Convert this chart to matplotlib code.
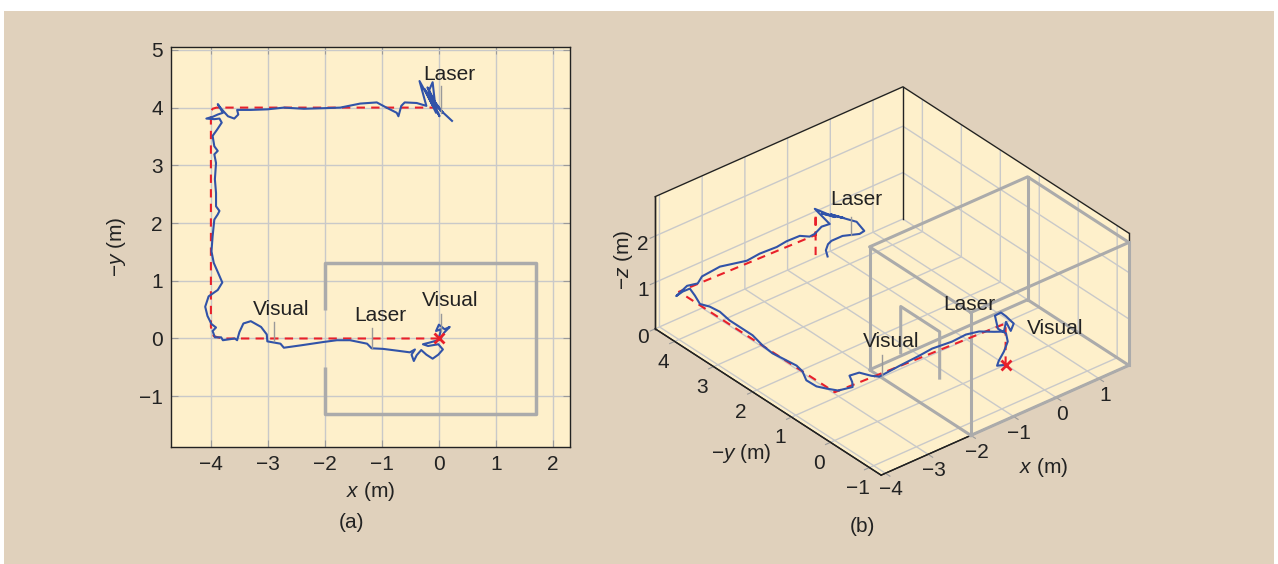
import numpy as np
import matplotlib.pyplot as plt
from matplotlib.patches import Rectangle

plt.rcParams['font.family'] = ['Liberation Sans', 'DejaVu Sans']
plt.rcParams['mathtext.fontset'] = 'custom'
plt.rcParams['mathtext.it'] = 'Liberation Sans:italic'
plt.rcParams['mathtext.rm'] = 'Liberation Sans'
plt.rcParams['grid.color'] = '#c9c9c9'
plt.rcParams['grid.linewidth'] = 1.0

# ---------------- data ----------------
# ground truth path, top view (x, -y)
gt_x = [0, -3.8, -3.95, -4.0, -4.0, -3.97, -3.9, 0.0]
gt_y = [0, 0.0, 0.04, 0.2, 3.93, 3.98, 4.0, 4.0]

# estimated trajectory, top view
traj_x = [0.0, 0.04, -0.05, 0.0, 0.10, 0.19, 0.09, 0.02, -0.16, -0.28, -0.19, -0.01, 0.07,
          -0.01, -0.11, -0.22, -0.31, -0.39, -0.44, -0.48, -0.42, -0.51, -0.74, -0.98, -1.18,
          -1.26, -1.56, -1.79, -2.02, -2.43, -2.72, -2.78, -3.01, -3.02, -3.12, -3.30, -3.43,
          -3.50, -3.54, -3.58, -3.79, -3.82, -3.93, -3.97, -3.91, -3.99, -4.06, -4.10, -4.04,
          -3.88, -3.80, -3.87, -3.95, -3.99, -3.97, -3.94, -3.88, -3.85, -3.91, -3.91, -3.93,
          -3.91, -3.94, -3.88, -3.94, -3.97, -3.89, -3.81, -3.85, -3.94, -4.08, -3.97, -3.88,
          -3.79, -3.88, -3.81, -3.70, -3.59, -3.52, -3.54, -3.30, -3.01, -2.72, -2.37, -2.02,
          -1.73, -1.38, -1.09, -0.92, -0.74, -0.71, -0.66, -0.60, -0.39, -0.22,
          -0.34, -0.10, -0.25, -0.05, -0.11, -0.19, 0.01, -0.16, 0.07, -0.10, -0.20, -0.02, 0.23]
traj_y = [0.01, 0.16, 0.13, 0.24, 0.16, 0.20, 0.10, -0.02, -0.07, -0.10, -0.13, -0.10, -0.19,
          -0.28, -0.35, -0.28, -0.20, -0.29, -0.39, -0.28, -0.19, -0.24, -0.21, -0.18, -0.17,
          -0.09, -0.03, -0.03, -0.06, -0.12, -0.16, -0.09, -0.05, 0.07, 0.20, 0.30, 0.26,
          0.11, -0.03, 0.0, -0.03, 0.02, 0.02, 0.13, 0.19, 0.25, 0.39, 0.55, 0.73,
          0.84, 0.97, 1.13, 1.31, 1.51, 1.77, 2.06, 2.15, 2.21, 2.29, 2.52, 2.76,
          3.04, 3.19, 3.25, 3.33, 3.51, 3.62, 3.74, 3.81, 3.80, 3.81, 3.84, 3.88,
          3.91, 4.06, 3.97, 3.85, 3.81, 3.88, 3.96, 3.96, 3.97, 4.00, 3.98, 3.99,
          4.00, 4.07, 4.09, 4.00, 3.91, 3.85, 4.03, 4.09, 4.08, 4.03,
          4.46, 4.03, 4.32, 3.91, 4.44, 4.26, 3.85, 4.20, 3.91, 4.14, 4.35, 4.00, 3.77]

# room outline (top view), door gap in the x = -2 wall
room_x = [-2.0, -2.0, 1.7, 1.7, -2.0, -2.0]
room_y = [0.5, 1.3, 1.3, -1.3, -1.3, -0.5]

# labels of the top view: text, text pos, leader line x, leader y0, y1
labels_a = [('Laser', 0.19, 4.58, 0.04, 3.91, 4.37),
            ('Visual', -2.76, 0.50, -2.89, -0.05, 0.28),
            ('Laser', -1.03, 0.39, -1.18, -0.16, 0.18),
            ('Visual', 0.20, 0.65, 0.03, 0.13, 0.42)]

# 3D view
gt3_x = [0, 0, -4.0, -4.0, -0.8, -0.8, -0.8]
gt3_y = [0, 0, 0.0, 4.0, 4.0, 4.0, 4.0]
gt3_z = [0, 0.89, 1.04, 1.03, 0.95, 1.40, 0.48]

traj3_x = [0.0, -0.20, -0.16, -0.04, 0.05, 0.01, -0.18, -0.25, -0.11, 0.01, 0.19, 0.12, 0.01,
           -0.04, -0.27, -0.62, -0.93, -1.25, -1.72, -2.02, -2.49, -2.96, -3.10, -3.20, -3.40,
           -3.50, -3.60, -3.90, -3.95,
           -4.0, -4.0, -4.0, -4.0, -4.0, -4.0, -4.0, -4.0, -4.0, -4.0, -4.0, -4.0, -4.0, -4.0,
           -4.0, -4.0, -4.0, -4.2,
           -3.81, -3.56, -3.46, -3.04, -2.41, -2.11, -1.71, -1.48, -1.17, -0.94, -0.82, -0.66,
           -0.47, -0.82, -0.35, -0.65, -0.15, -0.45, -0.08, 0.16, 0.34, 0.23, -0.17, -0.43,
           -0.51, -0.56, -0.52]
traj3_y = [0.0, 0.0, 0.0, 0.0, 0.0, 0.0, 0.0, 0.0, 0.0, 0.0, 0.0, 0.0, 0.0,
           0.0, 0.0, 0.0, 0.0, 0.0, 0.0, 0.0, 0.0, 0.0, 0.05, 0.25, 0.28,
           0.10, -0.02, 0.0, -0.05,
           0.22, 0.47, 0.73, 0.83, 0.98, 1.34, 1.60, 1.85, 2.11, 2.26, 2.70, 2.95, 3.21, 3.46,
           3.59, 3.72, 3.90, 3.85,
           4.0, 4.0, 4.0, 4.0, 4.0, 4.0, 4.0, 4.0, 4.0, 4.0, 4.0, 4.0,
           4.0, 4.0, 4.0, 4.0, 4.0, 4.0, 4.0, 4.0, 4.0, 4.0, 4.0, 4.0,
           4.0, 4.0, 4.0]
traj3_z = [0.0, 0.06, 0.15, 0.30, 0.48, 0.67, 0.85, 1.16, 1.17, 1.04, 0.81, 0.68, 0.92,
           0.73, 0.82, 0.97, 1.03, 1.01, 1.05, 1.02, 0.99, 0.95, 1.0, 1.0, 1.0,
           1.0, 1.0, 1.04, 1.08,
           1.00, 0.91, 0.90, 1.04, 1.08, 1.04, 1.01, 1.04, 1.12, 1.12, 1.12, 1.17, 1.14, 1.06,
           1.17, 1.25, 1.09, 1.10,
           1.08, 1.03, 1.14, 1.18, 1.05, 1.08, 1.06, 1.09, 1.08, 0.97, 0.98, 1.07,
           1.05, 1.52, 1.15, 1.35, 1.05, 1.25, 1.00, 0.84, 0.57, 0.55, 0.67, 0.67,
           0.63, 0.52, 0.37]

room3_x = (-2.0, 1.7)
room3_y = (-1.3, 1.3)
room3_h = 2.65
door3_y = (0.5, -0.5)
door3_z = (0.8, 1.8)

# labels of the 3D view: text, x, y, z
labels_b = [('Laser', 0.16, 4.0, 1.33),
            ('Laser', -0.86, 0.0, 1.65),
            ('Visual', -2.68, 0.0, 1.59),
            ('Visual', 1.17, 0.0, 0.30)]
leaders_b = [((-2.89, -2.89), (0.0, 0.0), (0.95, 1.38)),
             ((0.04, 0.04), (4.0, 4.0), (0.60, 0.99))]
ylabel3_pos = (-5.57, 0.67, 0.0)

xlim3 = (-4.1, 1.7)
ylim3 = (-1.3, 4.5)
zlim3 = (0.0, 2.85)

# ---------------- style ----------------
bg = '#e0d1bc'
pane = '#fef0cb'
blue = '#3153a8'
red = '#e8202a'
roomc = '#ababab'
ink = '#222222'
fs = 15

fig = plt.figure(figsize=(12.78, 5.64), dpi=100)
fig.patch.set_facecolor('white')
fig.patches.append(Rectangle((4 / 1278, 0), 1270 / 1278, 1 - 11 / 564,
                             transform=fig.transFigure, facecolor=bg, edgecolor='none', zorder=-10))

# ---------------- (a) top view ----------------
ax = fig.add_axes([171 / 1278, 1 - 447 / 564, 399 / 1278, 400 / 564])
ax.set_facecolor(pane)
ax.set_xlim(-4.7, 2.3)
ax.set_ylim(-1.88, 5.05)
ax.set_xticks(range(-4, 3))
ax.set_yticks(range(-1, 6))
ax.grid(True, zorder=0)
ax.set_axisbelow(True)
ax.tick_params(direction='in', length=5, color='#9a9a9a', top=True, right=True,
               labelsize=fs, pad=6, labelcolor=ink)
for s in ax.spines.values():
    s.set_linewidth(1.0)
    s.set_color(ink)

ax.plot(room_x, room_y, color=roomc, lw=2.5, solid_capstyle='butt', zorder=2)
ax.plot(gt_x, gt_y, color=red, lw=1.5, ls=(0, (4, 3)), zorder=3)
ax.plot(traj_x, traj_y, color=blue, lw=1.5, zorder=4)
ax.plot([0], [0], 'x', color=red, ms=7, mew=2, zorder=5)
for txt, tx, ty, lx, ly0, ly1 in labels_a:
    ax.text(tx, ty, txt, fontsize=fs, ha='center', va='center', color=ink, zorder=6)
    ax.plot([lx, lx], [ly0, ly1], color='#999999', lw=1, zorder=5)

ax.set_xlabel('$x$ (m)', fontsize=fs, labelpad=4, color=ink)
ax.set_ylabel('\u2212$y$ (m)', fontsize=fs, labelpad=8, color=ink)
fig.text(351 / 1278, 1 - 522 / 564, '(a)', fontsize=fs, ha='center', va='center', color=ink)

# ---------------- (b) 3D view ----------------
ax3 = fig.add_axes([550 / 1278, 1 - 548 / 564, 670 / 1278, 520 / 564],
                   projection='3d', proj_type='ortho')
ax3.set_facecolor('none')
ax3.computed_zorder = False
ax3.set_xlim(*xlim3)
ax3.set_ylim(*ylim3)
ax3.set_zlim(*zlim3)
ax3.set_box_aspect((5.8 * 55.6, 5.8 * 61.3, 2.85 * 55.1), zoom=0.94)
ax3.view_init(elev=32.4, azim=-129.6)
ax3.set_xticks(range(-4, 2))
ax3.set_yticks(range(-1, 5))
ax3.set_zticks(range(0, 3))
for axis in (ax3.xaxis, ax3.yaxis, ax3.zaxis):
    axis.set_pane_color(pane)
    axis.pane.set_edgecolor(pane)
    axis.line.set_color(ink)
    axis.line.set_linewidth(1.0)
    axis.set_rotate_label(False)
    axis._axinfo['tick']['inward_factor'] = 0.25
    axis._axinfo['tick']['outward_factor'] = 0.0
    axis.offsetText.set_visible(False)
ax3.tick_params(labelsize=fs, color='#9a9a9a', labelcolor=ink)
ax3.xaxis.set_tick_params(pad=-3)
ax3.yaxis.set_tick_params(pad=1)
ax3.zaxis.set_tick_params(pad=-3)

# box outline
x0, x1 = xlim3
y0, y1 = ylim3
z0, z1 = zlim3
ax3.plot([x0, x1, x1], [y1, y1, y0], [z1, z1, z1], color=ink, lw=1)
ax3.plot([x1, x1], [y1, y1], [z0, z1], color=ink, lw=1)
ax3.plot([x0, x0], [y1, y1], [z0, z1], color=ink, lw=1)
ax3.plot([x1, x1], [y0, y0], [z0, z1], color=ink, lw=1)
ax3.plot([x0, x0, x1], [y1, y0, y0], [z0, z0, z0], color=ink, lw=1)

# room box
rx0, rx1 = room3_x
ry0, ry1 = room3_y
for zz in (0, room3_h):
    ax3.plot([rx0, rx1, rx1, rx0, rx0], [ry0, ry0, ry1, ry1, ry0], [zz] * 5, color=roomc, lw=2.2)
for xx in room3_x:
    for yy in room3_y:
        ax3.plot([xx, xx], [yy, yy], [0, room3_h], color=roomc, lw=2.2)
ax3.plot([rx0, rx0, rx0, rx0], [door3_y[0], door3_y[0], door3_y[1], door3_y[1]],
         [door3_z[0], door3_z[1], door3_z[1], door3_z[0]], color=roomc, lw=2.2)

ax3.plot(gt3_x, gt3_y, gt3_z, color=red, lw=1.5, ls=(0, (4, 3)))
ax3.plot(traj3_x, traj3_y, traj3_z, color=blue, lw=1.5)
ax3.plot([0], [0], [0], 'x', color=red, ms=7, mew=2)
for (lx, ly, lz) in leaders_b:
    ax3.plot(lx, ly, lz, color='#999999', lw=1)
for txt, tx, ty, tz in labels_b:
    ax3.text(tx, ty, tz, txt, fontsize=fs, ha='center', va='center', color=ink)

ax3.set_xlabel('$x$ (m)', fontsize=fs, color=ink, rotation=0, labelpad=12)
ax3.yaxis.label.set_visible(False)
ax3.text(*ylabel3_pos, '\u2212$y$ (m)', fontsize=fs, ha='center', va='center', color=ink)
ax3.set_zlabel('\u2212$z$ (m)', fontsize=fs, color=ink, rotation=90, labelpad=-8)
fig.text(862 / 1278, 1 - 527 / 564, '(b)', fontsize=fs, ha='center', va='center', color=ink)

fig.savefig('out.png', dpi=100, facecolor=fig.get_facecolor())
